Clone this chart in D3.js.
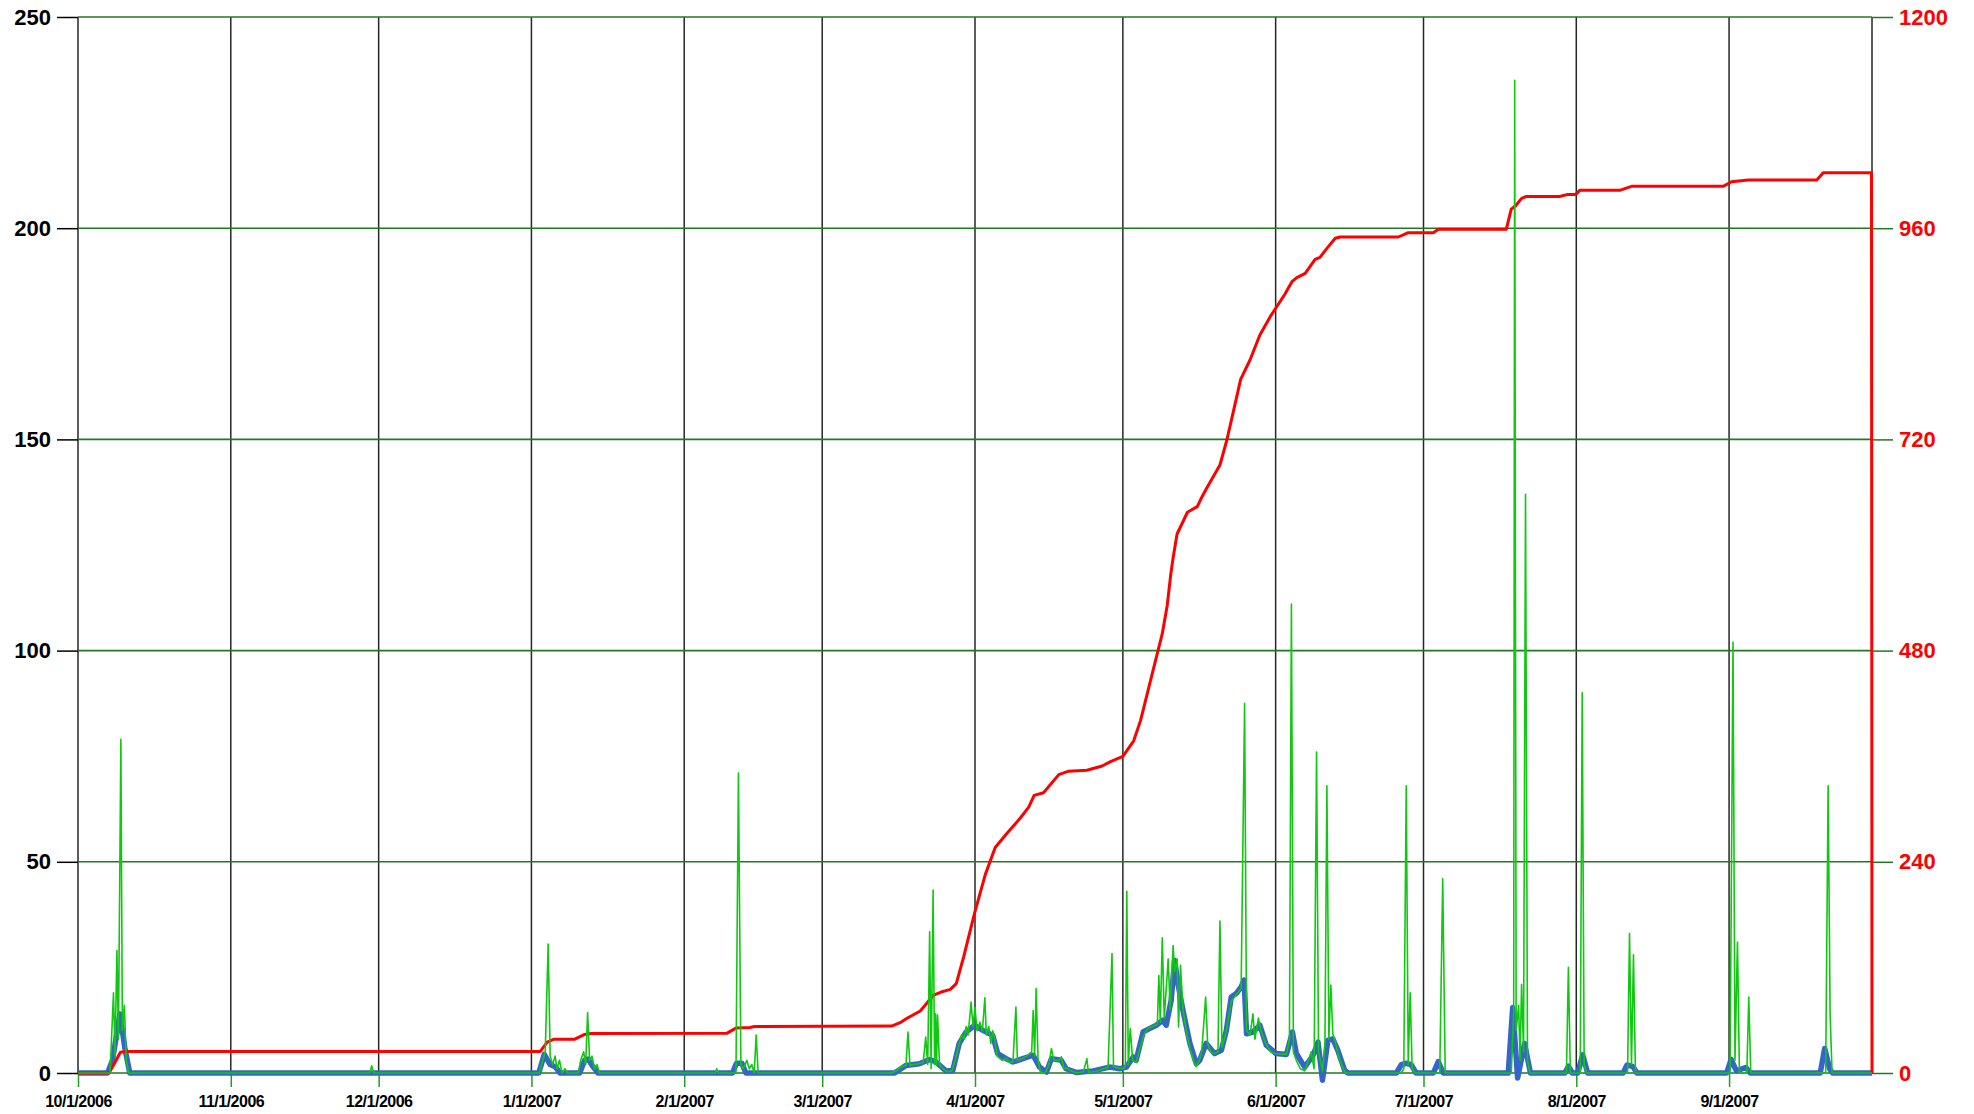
<html><head><title>Daily and cumulative series, Oct 2006 - Sep 2007</title>
<style>
    body { margin: 0; background: #ffffff; }
    svg { display: block; font-family: 'Liberation Sans', Arial, sans-serif; }
    .axis text { font-weight: bold; fill: #000; }
    .axis .domain { display: none; }
</style>
</head>
<body>
<svg id="chart" width="1974" height="1114"></svg>
<script src="https://cdnjs.cloudflare.com/ajax/libs/d3/7.8.5/d3.min.js"></script>
<script>
    // days counted from 10/1/2006
    const startDate = Date.UTC(2006, 9, 1);
    const endDay = 364;

    const leftTicks = [0, 50, 100, 150, 200, 250];
    const rightTicks = [0, 240, 480, 720, 960, 1200];

    // thin green series (left axis)
    const greenOct = [[0,0],[6.5,0],[7.2,19],[7.5,4],[7.9,29],[8.2,8],[8.7,79],[9.0,10],[9.4,16],[9.8,3],[10.3,0]];
    const greenWinter = [[59.2,0],[59.6,1.7],[60,0],
        [93.6,0],[94.3,3],[94.8,5],[95.4,30.5],[95.8,4],[96.3,2],[96.8,4],[97.2,1],[97.7,3],[98.2,0],[98.8,1],[99.3,0],
        [101.5,0],[102,3],[102.6,5],[103.0,2],[103.4,14.3],[103.8,3],[104.3,4],[104.8,1],[105.3,2],[105.8,0],
        [129.3,0],[129.6,1],[129.9,0],[133.5,0],[134,71],[134.5,2],[135,1],[135.7,3],[136.2,1],[136.7,2],[137.2,0],[137.6,9],[138,0]];
    const greenSpring = [[165,0],[166,0.5],[167,1.5],[168,1.8],[168.4,9.7],[168.8,1.8],[169.5,2],[170.5,2.2],[171.5,2.5],
        [172,8.5],[172.4,2],[172.8,33.4],[173.1,1],[173.5,43.3],[173.8,2],[174,14],[174.2,2],[174.4,13.7],[174.8,2],
        [175.5,1],[176.3,0.3],[177.3,0.5],[178,3],[178.8,7],[179.3,9],[179.8,8],[180.2,11],[180.6,9],[181,14],[181.2,16.8],
        [181.6,11],[182,15.6],[182.4,10],[183,12],[183.5,10],[184,17.8],[184.3,9],[184.8,11],[185.2,7],[185.6,10],[186,8],
        [186.5,4],[187.5,3],[188.3,3.5],[189,2.5],[189.7,2.6],[190.3,15.6],[190.6,3],[191.5,3.4],[192.5,4],[193.5,5],
        [193.8,14.8],[194.1,4],[194.4,20],[194.8,3],[195.3,0],[196.1,0],[196.5,0.5],[197,2],[197.5,5.8],[198,3],[199,3],
        [199.5,3.8],[200,1],[200.5,1.2],[201.5,0.5],[202.6,0],[204,0.3],[204.7,3.4],[205,0.2],[206,0.3],[207,0.5],[208,1],
        [209,1.3],[209.8,28.3],[210.1,1.5],[211,1.2],[212,1],[212.5,1.5],[212.8,43],[213.1,2],[213.5,10.5],[214,3],
        [214.7,2.5],[215.5,6],[216.3,9],[217,10.5],[218,11],[219,11.5],[219.3,23.1],[219.6,12],[220,32],[220.4,13],
        [221.2,27],[221.6,15],[222.2,30.2],[222.5,24],[223,27],[223.3,10.9],[223.7,25.5],[224.2,15],[225,9],[225.6,6],
        [226.3,3],[226.9,1.5],[227.5,3],[228,5],[228.8,18],[229.2,7],[229.8,5],[230.6,4.6],[231.3,5],[231.7,36],[232.1,6],
        [233,10],[234,17],[235,18.5],[236,20],[236.7,87.5],[237.1,10],[237.8,9],[238.4,14],[238.8,8],[239.5,13],[240,10],
        [241,7],[242,5],[243,4.6],[244,4.5],[245.2,4.4],[245.8,8],[246.2,111],[246.6,5],[247.2,3],[248,1],[248.9,0.5],
        [249.5,2.5],[250.2,5],[250.8,1],[251.3,76],[251.7,5],[252.5,0.5],[253,7],[253.4,68],[253.8,8],[254.2,20.8],
        [254.6,9.3],[255.2,7],[255.8,4],[256.5,1.5],[257.2,0],[258,0]];
    const greenSummer = [[268.5,0],[269,1],[269.5,68],[269.9,2],[270.3,19],[270.7,1],[271.3,0],
        [276.3,0],[276.9,46],[277.4,0],
        [290.8,0],[291.3,14],[291.5,235],[291.8,10],[292.3,16],[292.6,3],[292.9,21],[293.3,5],[293.7,137],[294.1,3],[294.6,0],
        [302,0],[302.4,25],[302.8,0],[304.8,0],[305.2,90],[305.6,2],[306.1,0],
        [314.4,0],[314.8,33],[315.2,2],[315.6,28],[316,0],
        [335.2,0],[335.8,102],[336.2,3],[336.7,31],[337.1,0],[338.6,0],[339,18],[339.4,0],
        [354.6,0],[355.1,68],[355.5,14],[355.9,0],[364,0]];

    // thick blue series (left axis)
    const blueOct = [[0,0],[6,0],[7,3],[8.5,14],[9.5,6],[10.5,0]];
    const blueWinter = [[93.5,0],[94.6,4.4],[95.8,2],[96.8,1.5],[97.8,0],
        [101.8,0],[102.8,3],[103.5,3.3],[104.5,1.5],[105.5,0],
        [132.8,0],[133.6,2.3],[134.7,2.3],[135.5,0]];
    const blueSpring = [[165.7,0],[168,1.8],[170.7,2.2],[172.8,3.2],[174.1,2.6],[176.1,0.5],[177.5,0.6],[178.8,7],
        [180.2,9.7],[181.9,11.3],[183.6,10.1],[185.6,8.9],[186.6,4.6],[188.3,3.4],[189.7,2.6],[191.7,3.4],[193.8,4.2],
        [195.1,1.4],[196.5,0.2],[197.5,3.4],[199.5,3],[200.5,1],[202.6,0.1],[206,0.5],[209.3,1.4],[211.4,1],[212.7,1.4],
        [214.1,3.8],[214.7,3],[216.1,9.7],[217.4,10.5],[218.8,11.3],[220.1,12.5],[220.8,11.3],[221.8,17.2],[222.5,26.7],
        [223.2,21],[224.2,14.8],[225.6,7],[226.9,2.2],[227.6,3],[228.9,7],[230.6,4.6],[232,5.4],[233,10.1],[234,18],
        [235,18.8],[236,20.4],[236.6,22],[237.1,9.3],[238.4,9.7],[239.8,11.3],[241.1,6.6],[243.1,4.6],[245.2,4.4],
        [246.4,9.7],[247.2,4.6],[248.9,1.4],[250.6,4.2],[251.6,7.3],[252.5,-1.7],[253.6,7.7],[254.6,8.1],[255.6,5.4],
        [257,0.6],[257.7,0]];
    const blueSummer = [[267.5,0],[268.5,2],[269.5,2.3],[270.5,2],[271.5,0],[275,0],[276,2.7],[277,0],
        [290.2,0],[291.1,15.5],[292.1,-1.2],[293.5,7],[294.7,0],[301.7,0],[302.4,1.6],[303.2,0],[304.3,0],[305.3,4.3],
        [306.3,0],[313.5,0],[314.3,1.9],[315.5,1.5],[316.3,0],[334.5,0],[335.4,3.2],[336.5,0.5],[338.4,1.3],[339.3,0],
        [353.5,0],[354.4,5.8],[355.4,1],[356,0],[364,0]];

    // red cumulative series (right axis)
    const redEarly = [[0,0],[6.3,0],[7.5,12],[8.6,23.6],[9.8,24.5],[93.8,24.5],[95.2,35],[96.6,38.4],[100.8,38.4],
        [102.7,43.7],[104.1,44.9],[131.7,45.3],[133.5,51],[136.3,51.7],[137.3,52.9],[165.1,53.3]];
    const redSpring = [[166.8,57.2],[168.2,62.2],[170.9,70.5],[173.6,88.6],[175,91.7],[177,95.1],[178.2,101.6],
        [179.7,132],[181.9,181.4],[184.1,225.7],[186.1,256.2],[188.5,272.5],[191.2,289.8],[192.9,302.2],[194,315.5],
        [195.9,318.4],[199,339.1],[201,343],[204.7,344],[207.8,348.9],[209.5,353.8],[212,359.8],[214.2,377.5],
        [215.6,400.7],[217.9,452.4],[220,499.2],[221,531.3],[221.7,565.8],[222.2,585.5],[223,612.5],[225.1,637.2],
        [227.1,643.6],[227.8,651.9],[229,664.4],[231.7,690.9],[233.1,719.3],[234.8,761],[235.9,788.2],[237.8,810.2],
        [239.8,838.6],[241.9,859.5],[244.9,885.2],[246.3,899.2],[247.3,903.8],[249,908.7],[251,924.6],[252,926.9],
        [253.4,937.1],[255.1,948.5],[256.1,950]];
    const redLate = [[267.9,950],[269.9,954.9],[275,954.9],[276,958.7],[289.8,958.7],[290.8,981.7],[291.7,985.5],
        [292.9,993.9],[293.9,996.1],[300.6,996.1],[302.3,998.4],[303.9,998.4],[304.7,1003],[312.8,1003],[315.2,1007.6],
        [333.8,1007.6],[335.5,1012.8],[338.9,1014.8],[352.8,1014.8],[354.1,1023.1],[363.9,1023.1],[364,0]];

    const green = [...greenOct, ...greenWinter, ...greenSpring, ...greenSummer];
    const blue = [...blueOct, ...blueWinter, ...blueSpring, ...blueSummer];
    const red = [...redEarly, ...redSpring, ...redLate];

    const toDate = d => new Date(startDate + d * 864e5);

    const plotL = 78, plotR = 1872, plotT = 17, plotB = 1073;
    const svg = d3.select("#chart");
    svg.append("rect").attr("width", 1974).attr("height", 1114).attr("fill", "#fff");

    const x = d3.scaleUtc().domain([toDate(0), toDate(endDay)]).range([plotL, plotR]);
    const yL = d3.scaleLinear().domain([0, 250]).range([plotB, plotT]);
    const yR = d3.scaleLinear().domain([0, 1200]).range([plotB, plotT]);

    const months = d3.utcMonth.range(toDate(0), toDate(endDay));

    // vertical grid (month starts) plus right edge
    svg.append("g").selectAll("line")
        .data([...months, toDate(endDay)])
        .join("line")
        .attr("x1", d => x(d)).attr("x2", d => x(d))
        .attr("y1", plotT).attr("y2", plotB)
        .attr("stroke", "#262626").attr("stroke-width", 1.5);

    // horizontal grid
    svg.append("g").selectAll("line")
        .data(leftTicks)
        .join("line")
        .attr("x1", plotL).attr("x2", plotR)
        .attr("y1", d => yL(d)).attr("y2", d => yL(d))
        .attr("stroke", "#1f7a1f").attr("stroke-width", 1.6);

    // axes
    const fmt = d3.utcFormat("%-m/%-d/%Y");
    const xAxis = svg.append("g").attr("class", "axis")
        .attr("transform", `translate(0,${plotB})`)
        .call(d3.axisBottom(x).tickValues(months).tickFormat(fmt).tickSize(14).tickPadding(9));
    xAxis.selectAll(".tick line").attr("stroke", "#1fa01f").attr("stroke-width", 1.5);
    xAxis.selectAll("text").style("font-size", "16px").attr("letter-spacing", "-0.5");

    const lAxis = svg.append("g").attr("class", "axis")
        .attr("transform", `translate(${plotL},0)`)
        .call(d3.axisLeft(yL).tickValues(leftTicks).tickSize(21).tickPadding(6));
    lAxis.selectAll(".tick line").attr("stroke", "#000").attr("stroke-width", 1.5);
    lAxis.selectAll("text").style("font-size", "22px");

    const rAxis = svg.append("g").attr("class", "axis")
        .attr("transform", `translate(${plotR},0)`)
        .call(d3.axisRight(yR).tickValues(rightTicks).tickFormat(d3.format("d")).tickSize(21).tickPadding(6));
    rAxis.selectAll(".tick line").attr("stroke", "#1f7a1f").attr("stroke-width", 1.5);
    rAxis.selectAll("text").style("font-size", "22px").style("fill", "#ff0000");

    // series
    const lineL = d3.line().x(d => x(toDate(d[0]))).y(d => yL(d[1]));
    const lineR = d3.line().x(d => x(toDate(d[0]))).y(d => yR(d[1]));

    svg.append("path").datum(blue)
        .attr("fill", "none").attr("stroke", "#3565c8").attr("stroke-width", 5.5)
        .attr("stroke-linejoin", "round").attr("d", lineL);

    svg.append("path").datum(red)
        .attr("fill", "none").attr("stroke", "#ff0000").attr("stroke-width", 3)
        .attr("stroke-linejoin", "round").attr("d", lineR);

    svg.append("path").datum(green)
        .attr("fill", "none").attr("stroke", "#10c810").attr("stroke-width", 1.6)
        .attr("stroke-linejoin", "round").attr("d", lineL);
</script>
</body>
</html>
